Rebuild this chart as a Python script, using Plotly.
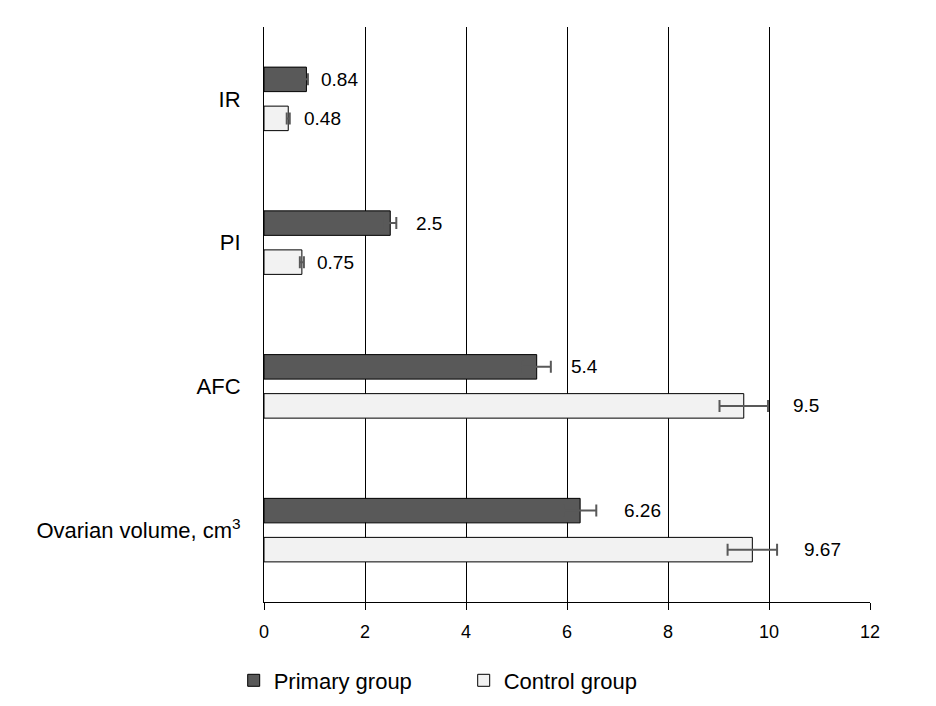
import plotly.graph_objects as go

categories = ["IR", "PI", "AFC", "Ovarian volume, cm<sup>3</sup>"]
primary_values = [0.84, 2.5, 5.4, 6.26]
control_values = [0.48, 0.75, 9.5, 9.67]
primary_errors = [0.03, 0.12, 0.28, 0.32]
control_errors = [0.03, 0.04, 0.48, 0.49]
primary_labels = ["0.84", "2.5", "5.4", "6.26"]
control_labels = ["0.48", "0.75", "9.5", "9.67"]
x_ticks = [0, 2, 4, 6, 8, 10, 12]

# styling: label shift (px) from bar end
primary_label_shift = [13, 24, 32, 42]
control_label_shift = [14, 13, 47, 50]

FONT = "Arial, Liberation Sans, sans-serif"

fig = go.Figure()
fig.add_trace(go.Bar(
    y=categories, x=primary_values, orientation="h", name="Primary group",
    marker=dict(color="#595959", line=dict(color="black", width=1)),
    error_x=dict(type="data", array=primary_errors, color="#595959", thickness=2, width=6),
))
fig.add_trace(go.Bar(
    y=categories, x=control_values, orientation="h", name="Control group",
    marker=dict(color="#f2f2f2", line=dict(color="black", width=1)),
    error_x=dict(type="data", array=control_errors, color="#595959", thickness=2, width=6),
))

annotations = []
for cat, v, lab, sh in zip(categories, primary_values, primary_labels, primary_label_shift):
    annotations.append(dict(x=v, y=cat, text=lab, showarrow=False, xanchor="left",
                            xshift=sh, yshift=19.5, font=dict(family=FONT, size=19, color="black")))
for cat, v, lab, sh in zip(categories, control_values, control_labels, control_label_shift):
    annotations.append(dict(x=v, y=cat, text=lab, showarrow=False, xanchor="left",
                            xshift=sh, yshift=-19.5, font=dict(family=FONT, size=19, color="black")))

fig.update_layout(
    width=936, height=706,
    margin=dict(l=256, r=74, t=19, b=112, autoexpand=False),
    paper_bgcolor="white", plot_bgcolor="white",
    barmode="group", bargap=0.457, bargroupgap=0.372,
    font=dict(family=FONT, color="black"),
    annotations=annotations,
    showlegend=True,
    legend=dict(orientation="h", x=-0.05, xanchor="left", y=-0.10, yanchor="top",
                font=dict(family=FONT, size=22, color="black"),
                entrywidth=185, entrywidthmode="pixels", traceorder="normal"),
    xaxis=dict(range=[0, 12], tickvals=x_ticks, ticktext=[str(t) for t in x_ticks],
               showgrid=True, gridcolor="black", gridwidth=1, zeroline=False,
               showline=True, linecolor="black", linewidth=1, automargin=False,
               ticks="outside", ticklen=7, tickcolor="black", tickwidth=1,
               ticklabelstandoff=6,
               tickfont=dict(family=FONT, size=18, color="black")),
    yaxis=dict(autorange="reversed", showline=True, linecolor="black", linewidth=1,
               showgrid=False, ticks="", ticklabelstandoff=18, automargin=False,
               tickfont=dict(family=FONT, size=22, color="black")),
)

fig.write_html("out.html")
